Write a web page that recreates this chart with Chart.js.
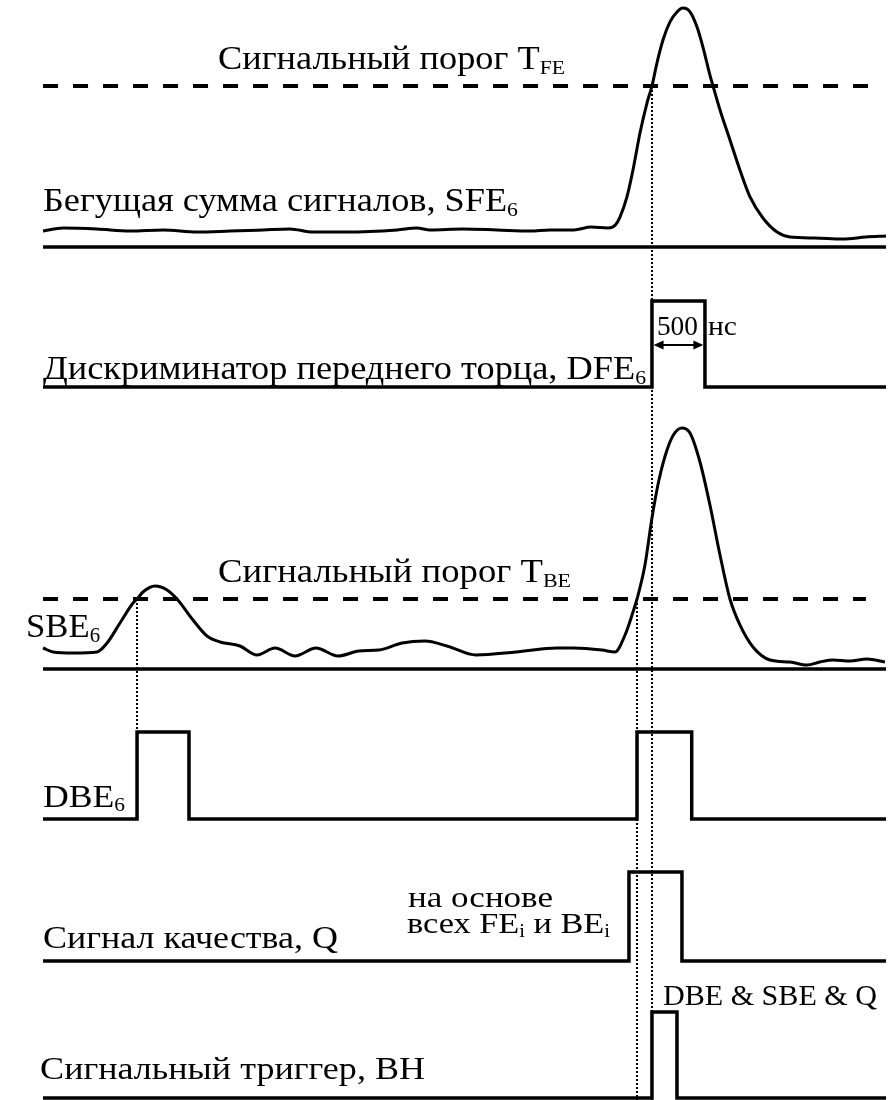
<!DOCTYPE html>
<html><head><meta charset="utf-8">
<script src="https://cdn.jsdelivr.net/npm/chart.js@4.4.0/dist/chart.umd.min.js"></script>
<style>html,body{margin:0;padding:0;background:#fff}canvas{display:block}</style>
</head><body>
<canvas id="c" width="895" height="1100"></canvas>
<script>
// ---------- DATA (time in ns, amplitudes relative to threshold = 1) ----------
const sfeTime = [0,189,509,821,1132,1453,1764,2075,2330,2547,2868,3340,3528,3651,3962,4283,4594,4783,5009,5170,5330,5400,5443,5509,5566,5632,5698,5745,5792,5849,5915,5981,6038,6104,6170,6226,6292,6321,6387,6481,6575,6670,6792,6925,7047,7283,7547,7764,7953];
const sfeAmp  = [0.099,0.118,0.112,0.099,0.106,0.093,0.099,0.106,0.112,0.093,0.093,0.106,0.118,0.106,0.112,0.106,0.099,0.106,0.106,0.124,0.118,0.137,0.186,0.311,0.478,0.708,0.894,1.0,1.143,1.286,1.398,1.460,1.484,1.460,1.366,1.242,1.068,1.0,0.851,0.665,0.478,0.311,0.180,0.093,0.062,0.056,0.050,0.062,0.068];
const sbeTime = [0,94,283,509,604,726,849,887,943,1057,1170,1264,1415,1547,1670,1858,2019,2189,2377,2575,2783,2981,3170,3387,3604,3811,4085,4462,4849,5009,5274,5396,5491,5566,5604,5679,5745,5811,5887,5953,6028,6104,6198,6292,6387,6481,6575,6698,6858,7047,7208,7330,7453,7613,7774,7943];
const sbeAmp  = [0.30,0.243,0.229,0.243,0.371,0.657,0.943,1.0,1.1,1.186,1.129,1.0,0.70,0.471,0.386,0.329,0.20,0.30,0.186,0.30,0.186,0.257,0.271,0.371,0.40,0.329,0.20,0.243,0.30,0.30,0.271,0.243,0.486,0.814,1.0,1.486,2.157,2.70,3.129,3.357,3.443,3.371,2.957,2.343,1.629,1.0,0.629,0.314,0.129,0.10,0.057,0.10,0.129,0.114,0.143,0.10];
const thresholdFE = 1.0;
const thresholdBE = 1.0;
const thresholdFEEnd = 7850;   // ns, end of dashed T_FE line
const thresholdBEEnd = 7764;   // ns, end of dashed T_BE line
const traceEnd = 7953;         // ns
// logic signals: alternating rise / fall times (ns)
const dfeEdges = [5745, 6245];
const dbeEdges = [887, 1377, 5604, 6120];
const qEdges   = [5528, 6028];
const bhEdges  = [5745, 5981];
// threshold-crossing markers (dotted verticals)
const crossTimes = [887, 5604, 5745];

// ---------- LAYOUT ----------
const X_MIN = -406, X_MAX = 8038;
const rows = {
  ySFE: {base: 247, unit: 161},
  yDFE: {base: 387, unit: 86},
  ySBE: {base: 669, unit: 70},
  yDBE: {base: 819, unit: 87},
  yQ:   {base: 961, unit: 89},
  yBH:  {base: 1098, unit: 86}
};
const H = 1100;
const FONT = '"Liberation Serif", "Times New Roman", Times, serif';

const labels = [
  {axis:'ySFE', t:1651, v:1.106, tRight:4925, size:33, parts:[['Сигнальный порог T'],['FE',1]]},
  {axis:'ySFE', t:0, v:0.224, tRight:4481, size:33, parts:[['Бегущая сумма сигналов, SFE'],['6',1]]},
  {axis:'yDFE', t:0, v:0.093, tRight:5689, size:33, parts:[['Дискриминатор переднего торца, DFE'],['6',1]]},
  {axis:'yDFE', t:5792, v:0.605, tRight:6179, size:27, parts:[['500']]},
  {axis:'yDFE', t:6274, v:0.605, tRight:6547, size:27, parts:[['нс']]},
  {axis:'ySBE', t:1651, v:1.243, tRight:4981, size:33, parts:[['Сигнальный порог T'],['BE',1]]},
  {axis:'ySBE', t:-160, v:0.457, tRight:538, size:34, parts:[['SBE'],['6',1]]},
  {axis:'yDBE', t:0, v:0.138, tRight:774, size:31, parts:[['DBE'],['6',1]]},
  {axis:'yQ', t:0, v:0.146, tRight:2783, size:32, parts:[['Сигнал качества, Q']]},
  {axis:'yQ', t:3443, v:0.607, tRight:4811, size:30, parts:[['на основе']]},
  {axis:'yQ', t:3434, v:0.315, tRight:5349, size:30, parts:[['всех FE'],['i',1],[' и BE'],['i',1]]},
  {axis:'yBH', t:5849, v:1.081, tRight:7868, size:29, parts:[['DBE & SBE & Q']]},
  {axis:'yBH', t:-28, v:0.221, tRight:3604, size:32, parts:[['Сигнальный триггер, BH']]}
];
const arrow = {axis:'yDFE', t1:5760, t2:6230, v:0.488};

// ---------- BUILD ----------
function pts(ts, vs){ return ts.map((t,i)=>({x:t, y:vs[i]})); }
function steps(edges){
  const d=[{x:0,y:0}];
  edges.forEach((t,i)=>{ if(i%2===0){d.push({x:t,y:0},{x:t,y:1});} else {d.push({x:t,y:1},{x:t,y:0});} });
  d.push({x:traceEnd,y:0});
  return d;
}
const base = {showLine:true, pointRadius:0, borderColor:'#000', fill:false, clip:false, xAxisID:'x'};
const datasets = [
  Object.assign({}, base, {yAxisID:'ySFE', data:pts(sfeTime,sfeAmp), borderWidth:3, cubicInterpolationMode:'monotone'}),
  Object.assign({}, base, {yAxisID:'ySFE', data:[{x:0,y:0},{x:traceEnd,y:0}], borderWidth:3.5}),
  Object.assign({}, base, {yAxisID:'ySFE', data:[{x:0,y:thresholdFE},{x:thresholdFEEnd,y:thresholdFE}], borderWidth:4, borderDash:[15,15], borderCapStyle:'butt'}),
  Object.assign({}, base, {yAxisID:'yDFE', data:steps(dfeEdges), borderWidth:3.5, borderJoinStyle:'miter'}),
  Object.assign({}, base, {yAxisID:'ySBE', data:pts(sbeTime,sbeAmp), borderWidth:3, cubicInterpolationMode:'monotone'}),
  Object.assign({}, base, {yAxisID:'ySBE', data:[{x:0,y:0},{x:traceEnd,y:0}], borderWidth:3.5}),
  Object.assign({}, base, {yAxisID:'ySBE', data:[{x:0,y:thresholdBE},{x:thresholdBEEnd,y:thresholdBE}], borderWidth:4, borderDash:[15,15], borderCapStyle:'butt'}),
  Object.assign({}, base, {yAxisID:'yDBE', data:steps(dbeEdges), borderWidth:3.5, borderJoinStyle:'miter'}),
  Object.assign({}, base, {yAxisID:'yQ', data:steps(qEdges), borderWidth:3.5, borderJoinStyle:'miter'}),
  Object.assign({}, base, {yAxisID:'yBH', data:steps(bhEdges), borderWidth:3.5, borderJoinStyle:'miter'})
];

const scales = {x:{type:'linear', min:X_MIN, max:X_MAX, display:false}};
Object.keys(rows).forEach(k=>{
  const r = rows[k];
  scales[k] = {type:'linear', display:false, max:r.base/r.unit, min:(r.base-H)/r.unit};
});

// dotted verticals: [time, from axis, from value, to axis, to value]
const markers = [
  [crossTimes[0], 'ySBE', thresholdBE, 'yDBE', 1],
  [crossTimes[1], 'ySBE', thresholdBE, 'yBH', scales.yBH.min],
  [crossTimes[2], 'ySFE', thresholdFE, 'yBH', scales.yBH.min]
];

const annot = {
  id:'annot',
  beforeDatasetsDraw(chart){
    const c = chart.ctx, xs = chart.scales.x;
    c.save();
    c.strokeStyle='#000'; c.lineWidth=2; c.setLineDash([2,2]);
    markers.forEach(m=>{
      const x = Math.round(xs.getPixelForValue(m[0]));
      c.beginPath();
      c.moveTo(x, chart.scales[m[1]].getPixelForValue(m[2]));
      c.lineTo(x, chart.scales[m[3]].getPixelForValue(m[4]));
      c.stroke();
    });
    c.restore();
  },
  afterDatasetsDraw(chart){
    const c = chart.ctx, xs = chart.scales.x;
    c.save();
    c.fillStyle='#000'; c.textBaseline='alphabetic'; c.textAlign='left';
    labels.forEach(L=>{
      const ys = chart.scales[L.axis];
      const x0 = xs.getPixelForValue(L.t), x1 = xs.getPixelForValue(L.tRight), y = ys.getPixelForValue(L.v);
      const sub = L.size*0.6;
      const ws = L.parts.map(p=>{ c.font = (p[1]?sub:L.size)+'px '+FONT; return c.measureText(p[0]).width; });
      const total = ws.reduce((a,b)=>a+b,0);
      const sx = (x1-x0)/total;
      c.save(); c.translate(x0,y); c.scale(sx,1);
      let cx=0;
      L.parts.forEach((p,i)=>{ c.font=(p[1]?sub:L.size)+'px '+FONT; c.fillText(p[0], cx, p[1]?L.size*0.14:0); cx+=ws[i]; });
      c.restore();
    });
    // double-headed arrow
    const ay = chart.scales[arrow.axis].getPixelForValue(arrow.v);
    const ax1 = xs.getPixelForValue(arrow.t1), ax2 = xs.getPixelForValue(arrow.t2);
    c.strokeStyle='#000'; c.lineWidth=2; c.fillStyle='#000';
    c.beginPath(); c.moveTo(ax1+6, ay); c.lineTo(ax2-6, ay); c.stroke();
    c.beginPath(); c.moveTo(ax1, ay); c.lineTo(ax1+10, ay-4.5); c.lineTo(ax1+10, ay+4.5); c.closePath(); c.fill();
    c.beginPath(); c.moveTo(ax2, ay); c.lineTo(ax2-10, ay-4.5); c.lineTo(ax2-10, ay+4.5); c.closePath(); c.fill();
    c.restore();
  }
};

function build(){
  new Chart(document.getElementById('c').getContext('2d'), {
    type:'scatter',
    data:{datasets},
    options:{
      responsive:false, animation:false, events:[],
      layout:{padding:0},
      plugins:{legend:{display:false}, tooltip:{enabled:false}, title:{display:false}},
      scales
    },
    plugins:[annot]
  });
}
if (document.fonts && document.fonts.load) {
  Promise.all([document.fonts.load('32px "Liberation Serif"'), document.fonts.load('19px "Liberation Serif"')])
    .then(build, build);
} else { build(); }
</script>
</body></html>
